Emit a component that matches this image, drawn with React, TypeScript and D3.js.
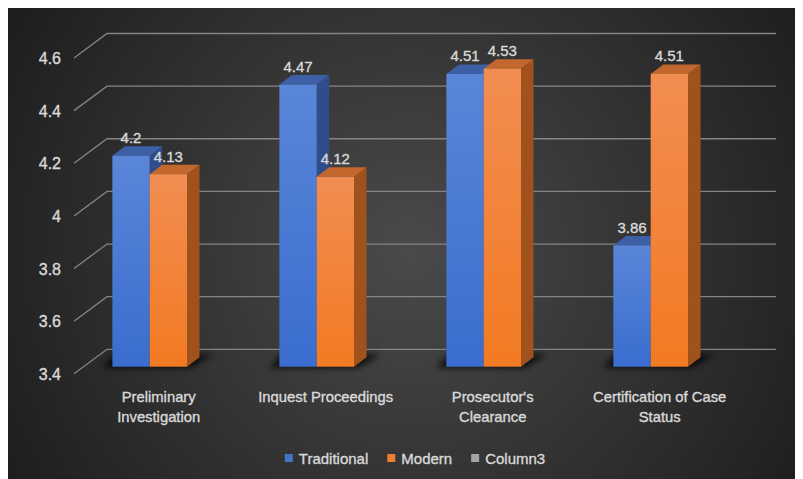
import { useEffect, useRef } from 'react';
import * as d3 from 'd3';

const categories = ['Preliminary Investigation', 'Inquest Proceedings', "Prosecutor's Clearance", 'Certification of Case Status'];
const categoryLines = [['Preliminary', 'Investigation'], ['Inquest Proceedings'], ["Prosecutor's", 'Clearance'], ['Certification of Case', 'Status']];
const seriesNames = ['Traditional', 'Modern', 'Column3'];
const traditional = [4.2, 4.47, 4.51, 3.86];
const modern = [4.13, 4.12, 4.53, 4.51];
const yTicks = [3.4, 3.6, 3.8, 4, 4.2, 4.4, 4.6];

const W = 795;
const H = 471;
const FONT = '"Liberation Sans", Arial, sans-serif';
const TEXT = '#d9d9d9';

// face colours per series: front gradient top/bottom, top face, side face
const faces = [
  { top: '#5a86d8', bottom: '#3a6dcf', lid: '#3d5fa6', side: '#2f4d8a', key: '#4472c4' },
  { top: '#f28d52', bottom: '#f27a22', lid: '#c2682e', side: '#a0521d', key: '#ed7d31' },
];

export default function App() {
  const svgRef = useRef<SVGSVGElement>(null);

  useEffect(() => {
    if (!svgRef.current) return;
    const svg = d3.select(svgRef.current);
    svg.selectAll('*').remove();

    const defs = svg.append('defs');
    const bg = defs.append('radialGradient')
      .attr('id', 'bg')
      .attr('gradientUnits', 'userSpaceOnUse')
      .attr('cx', 410).attr('cy', 250).attr('r', 470);
    bg.append('stop').attr('offset', '0%').attr('stop-color', '#4a4a4a');
    bg.append('stop').attr('offset', '100%').attr('stop-color', '#1d1d1d');

    faces.forEach((f, i) => {
      const g = defs.append('linearGradient')
        .attr('id', `front${i}`)
        .attr('x1', 0).attr('y1', 0).attr('x2', 0).attr('y2', 1);
      g.append('stop').attr('offset', '0%').attr('stop-color', f.top);
      g.append('stop').attr('offset', '100%').attr('stop-color', f.bottom);
    });

    defs.append('filter').attr('id', 'blur')
      .attr('x', '-20%').attr('y', '-50%').attr('width', '140%').attr('height', '200%')
      .append('feGaussianBlur').attr('stdDeviation', 3);

    // page coordinates (body margin is 8px)
    const root = svg.append('g').attr('transform', 'translate(-8,-8)');

    root.append('rect')
      .attr('x', 8).attr('y', 8).attr('width', W).attr('height', H)
      .attr('fill', 'url(#bg)');

    // 3D layout
    const depthX = 33;   // full floor depth offset
    const depthY = 24;
    const barDx = 12.5;  // bar depth offset
    const barDy = 9.5;

    const yBack = d3.scaleLinear().domain([3.4, 4.6]).range([349.3, 33.5]);
    const yBar = d3.scaleLinear().domain([3.4, 4.6]).range([366.7, 50.2]);

    const x0 = d3.scaleBand<string>()
      .domain(categories)
      .range([66.2, 734.2])
      .paddingInner(0.553)
      .paddingOuter(0.2765);
    const x1 = d3.scaleBand<string>()
      .domain(seriesNames.slice(0, 2))
      .range([0, x0.bandwidth()]);

    const backLeft = 107;
    const backRight = 776;

    const styleText = (sel: d3.Selection<SVGTextElement, any, any, any>, size: number) =>
      sel.attr('font-family', FONT)
        .attr('font-size', size)
        .attr('fill', TEXT)
        .attr('stroke', TEXT)
        .attr('stroke-width', 0.35);

    // gridlines
    const grid = root.append('g');
    yTicks.forEach((t) => {
      const yb = yBack(t);
      grid.append('path')
        .attr('d', `M${backLeft - depthX},${yb + depthY + 0.5}L${backLeft},${yb}L${backRight},${yb}`)
        .attr('fill', 'none')
        .attr('stroke', '#858585')
        .attr('stroke-width', 1.3);
    });

    // y tick labels
    root.append('g')
      .selectAll('text')
      .data(yTicks)
      .join('text')
      .attr('x', 61)
      .attr('y', (d) => yBack(d) + depthY + 1)
      .attr('dy', '0.35em')
      .attr('text-anchor', 'end')
      .call((s) => styleText(s, 16))
      .text((d) => d3.format('~g')(d));

    const series = [traditional, modern];

    // floor shadows
    categories.forEach((c) => {
      const left = x0(c)!;
      const right = left + x0.bandwidth();
      const yb = yBar(3.4);
      root.append('path')
        .attr('d', `M${left - 10},${yb + 1}L${right + 4},${yb + 1}L${right + barDx + 14},${yb - barDy - 3}L${left + 2},${yb - barDy - 3}Z`)
        .attr('fill', '#000')
        .attr('opacity', 0.75)
        .attr('filter', 'url(#blur)');
    });

    // bars
    const bars = root.append('g');
    categories.forEach((c, ci) => {
      series.forEach((vals, si) => {
        const f = faces[si];
        const xl = x0(c)! + x1(seriesNames[si])!;
        const xr = xl + x1.bandwidth();
        const yt = yBar(vals[ci]);
        const yb = yBar(3.4);
        const g = bars.append('g');
        g.append('path')
          .attr('d', `M${xr},${yt}L${xr + barDx},${yt - barDy}L${xr + barDx},${yb - barDy}L${xr},${yb}Z`)
          .attr('fill', f.side);
        g.append('path')
          .attr('d', `M${xl},${yt}L${xr},${yt}L${xr + barDx},${yt - barDy}L${xl + barDx},${yt - barDy}Z`)
          .attr('fill', f.lid);
        g.append('rect')
          .attr('x', xl).attr('y', yt)
          .attr('width', xr - xl).attr('height', yb - yt)
          .attr('fill', `url(#front${si})`);
      });
    });

    // data labels
    categories.forEach((c, ci) => {
      series.forEach((vals, si) => {
        const xl = x0(c)! + x1(seriesNames[si])!;
        root.append('text')
          .attr('x', xl + x1.bandwidth() / 2)
          .attr('y', yBar(vals[ci]) - barDy - 3)
          .attr('text-anchor', 'middle')
          .call((s) => styleText(s, 15))
          .text(String(vals[ci]));
      });
    });

    // category labels
    categories.forEach((c, ci) => {
      const cx = x0(c)! + x0.bandwidth() / 2 + 9;
      const t = root.append('text')
        .attr('text-anchor', 'middle')
        .call((s) => styleText(s, 14.8));
      categoryLines[ci].forEach((line, li) => {
        t.append('tspan')
          .attr('x', cx)
          .attr('y', 401.5 + li * 20)
          .text(line);
      });
    });

    // legend
    const legend = root.append('g');
    const keyColors = [faces[0].key, faces[1].key, '#a5a5a5'];
    const items: { g: d3.Selection<SVGGElement, unknown, null, undefined>; w: number }[] = [];
    seriesNames.forEach((name, i) => {
      const g = legend.append('g');
      g.append('rect')
        .attr('x', 0).attr('y', -10)
        .attr('width', 8).attr('height', 8)
        .attr('fill', keyColors[i]);
      const txt = g.append('text')
        .attr('x', 14).attr('y', 0)
        .call((s) => styleText(s, 15))
        .text(name);
      const w = 14 + (txt.node() as SVGTextElement).getComputedTextLength();
      items.push({ g, w });
    });
    const gap = 19;
    const total = items.reduce((s, it) => s + it.w, 0) + gap * (items.length - 1);
    let lx = 415 - total / 2;
    items.forEach((it) => {
      it.g.attr('transform', `translate(${lx},464)`);
      lx += it.w + gap;
    });
  }, []);

  return (
    <svg ref={svgRef} width={W} height={H} style={{ display: 'block' }} />
  );
}
